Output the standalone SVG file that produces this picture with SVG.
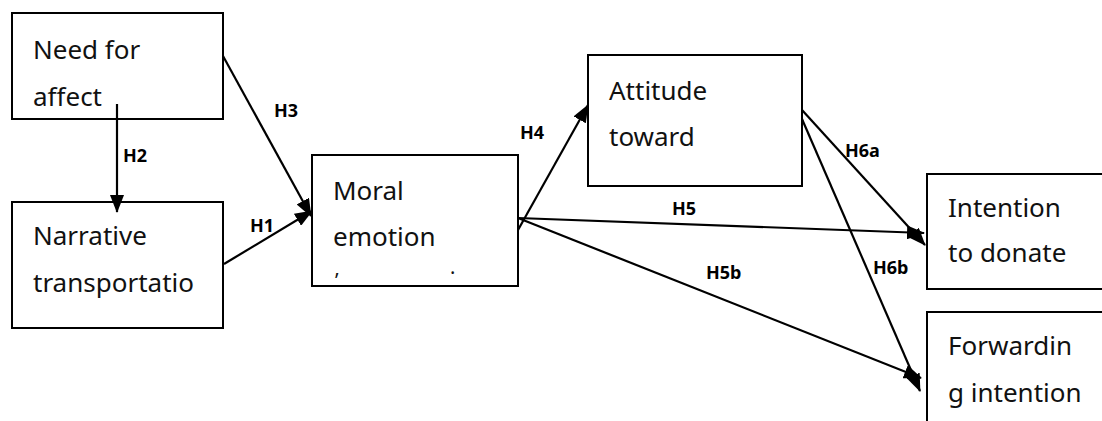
<svg xmlns="http://www.w3.org/2000/svg" width="1102" height="421" viewBox="0 0 1102 421">
<style>
.box{fill:#fff;stroke:#000;stroke-width:2}
.t{font-family:"Noto Sans","Open Sans",sans-serif;font-size:26px;fill:#111}
.lbl{font-family:"Noto Sans","Open Sans",sans-serif;font-size:18px;font-weight:bold;fill:#000}
.c{stroke:#000;stroke-width:2.2;fill:none;marker-end:url(#ah)}
</style>
<defs>
<marker id="ah" markerUnits="userSpaceOnUse" markerWidth="18" markerHeight="14" refX="17" refY="7" orient="auto">
<path d="M0,0 L18,7 L0,14 Z" fill="#000"/>
</marker>
</defs>
<g id="node-need">
<rect class="box" x="12" y="13" width="211" height="106"/>
<text class="t" x="33" y="59">Need for</text>
<text class="t" x="33" y="106">affect</text>
</g>
<g id="node-narrative">
<rect class="box" x="12" y="202" width="211" height="126"/>
<text class="t" x="33" y="245">Narrative</text>
<text class="t" x="33" y="292">transportatio</text>
</g>
<g id="node-moral">
<rect class="box" x="312" y="155" width="206" height="131"/>
<text class="t" x="333" y="200">Moral</text>
<text class="t" x="333" y="246">emotion</text>
<text class="t" x="335" y="287" style="font-size:20px">ʹ</text>
<text class="t" x="450" y="280" style="font-size:20px">·</text>
</g>
<g id="node-attitude">
<rect class="box" x="588" y="55" width="214" height="131"/>
<text class="t" x="609" y="100">Attitude</text>
<text class="t" x="609" y="146">toward</text>
</g>
<g id="node-donate">
<rect class="box" x="927" y="174" width="190" height="115"/>
<text class="t" x="948" y="217">Intention</text>
<text class="t" x="948" y="262">to donate</text>
</g>
<g id="node-forward">
<rect class="box" x="927" y="312" width="190" height="130"/>
<text class="t" x="948" y="355">Forwardin</text>
<text class="t" x="948" y="402">g intention</text>
</g>
<g id="connectors">
<line class="c" x1="117" y1="104" x2="117" y2="212"/>
<line class="c" x1="223" y1="56" x2="311" y2="216"/>
<line class="c" x1="224" y1="264" x2="312" y2="211"/>
<line class="c" x1="518" y1="230" x2="588" y2="105"/>
<line class="c" x1="518" y1="218" x2="924" y2="233"/>
<line class="c" x1="518" y1="218" x2="921" y2="378"/>
<line class="c" x1="802" y1="110" x2="925" y2="245"/>
<line class="c" x1="802" y1="119" x2="920" y2="391"/>
</g>
<g id="labels">
<text class="lbl" x="123" y="162">H2</text>
<text class="lbl" x="274" y="117">H3</text>
<text class="lbl" x="250" y="232">H1</text>
<text class="lbl" x="520" y="139">H4</text>
<text class="lbl" x="672" y="215">H5</text>
<text class="lbl" x="706" y="279">H5b</text>
<text class="lbl" x="845" y="157">H6a</text>
<text class="lbl" x="873" y="274">H6b</text>
</g>
</svg>
